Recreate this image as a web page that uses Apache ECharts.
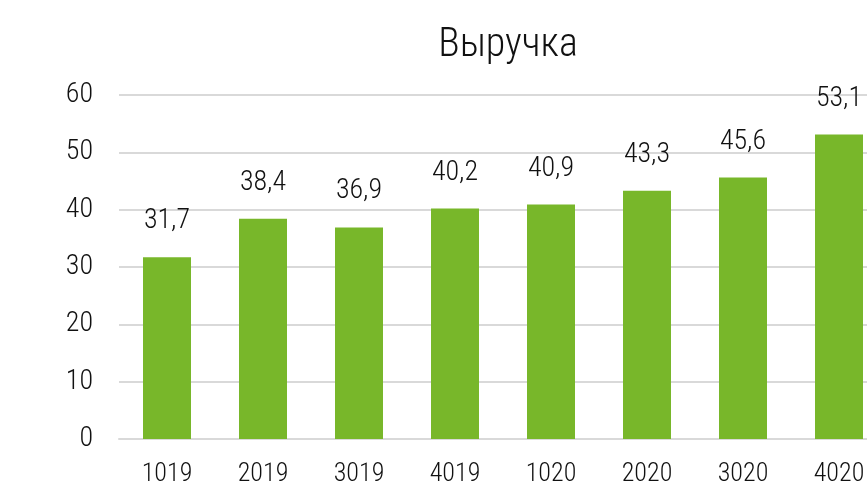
<!DOCTYPE html>
<html>
<head>
<meta charset="utf-8">
<script src="https://cdn.jsdelivr.net/npm/echarts@6/dist/echarts.min.js"></script>
<style>
  html, body { margin: 0; padding: 0; background: #fff; }
  #chart { width: 867px; height: 491px; }
</style>
</head>
<body>
<div id="chart"></div>
<script>
// Quarterly revenue
const quarters = ['1019', '2019', '3019', '4019', '1020', '2020', '3020', '4020'];
const revenue = [31.7, 38.4, 36.9, 40.2, 40.9, 43.3, 45.6, 53.1];
const yTicks = [0, 10, 20, 30, 40, 50, 60];

const font = '"Roboto Condensed", "Liberation Sans Narrow", "Liberation Sans", sans-serif';
const chart = echarts.init(document.getElementById('chart'), null, { renderer: 'canvas' });

chart.setOption({
  animation: false,
  backgroundColor: '#ffffff',
  title: {
    text: 'Выручка',
    left: 503,
    top: 21,
    textAlign: 'center',
    textStyle: { fontFamily: font, fontSize: 40, fontWeight: 300, color: '#111' }
  },
  grid: { left: 119, top: 95, width: 768, height: 344, containLabel: false, outerBoundsMode: 'none' },
  xAxis: {
    type: 'category',
    data: quarters,
    axisLine: { show: true, lineStyle: { color: '#d9d9d9', width: 2 } },
    axisTick: { show: false },
    axisLabel: { margin: 22, fontFamily: font, fontSize: 26, fontWeight: 300, color: '#111' }
  },
  yAxis: {
    type: 'value',
    min: yTicks[0],
    max: yTicks[yTicks.length - 1],
    interval: 10,
    axisLine: { show: false },
    axisTick: { show: false },
    splitLine: { lineStyle: { color: '#d9d9d9', width: 2 } },
    axisLabel: { margin: 26, fontFamily: font, fontSize: 28, fontWeight: 300, color: '#111' }
  },
  series: [{
    type: 'bar',
    data: revenue,
    barWidth: 48,
    itemStyle: { color: '#78B72A' },
    label: {
      show: true,
      position: 'top',
      distance: 22,
      fontFamily: font,
      fontSize: 28,
      fontWeight: 300,
      color: '#111',
      formatter: p => p.value.toFixed(1).replace('.', ',')
    }
  }]
});
</script>
</body>
</html>
